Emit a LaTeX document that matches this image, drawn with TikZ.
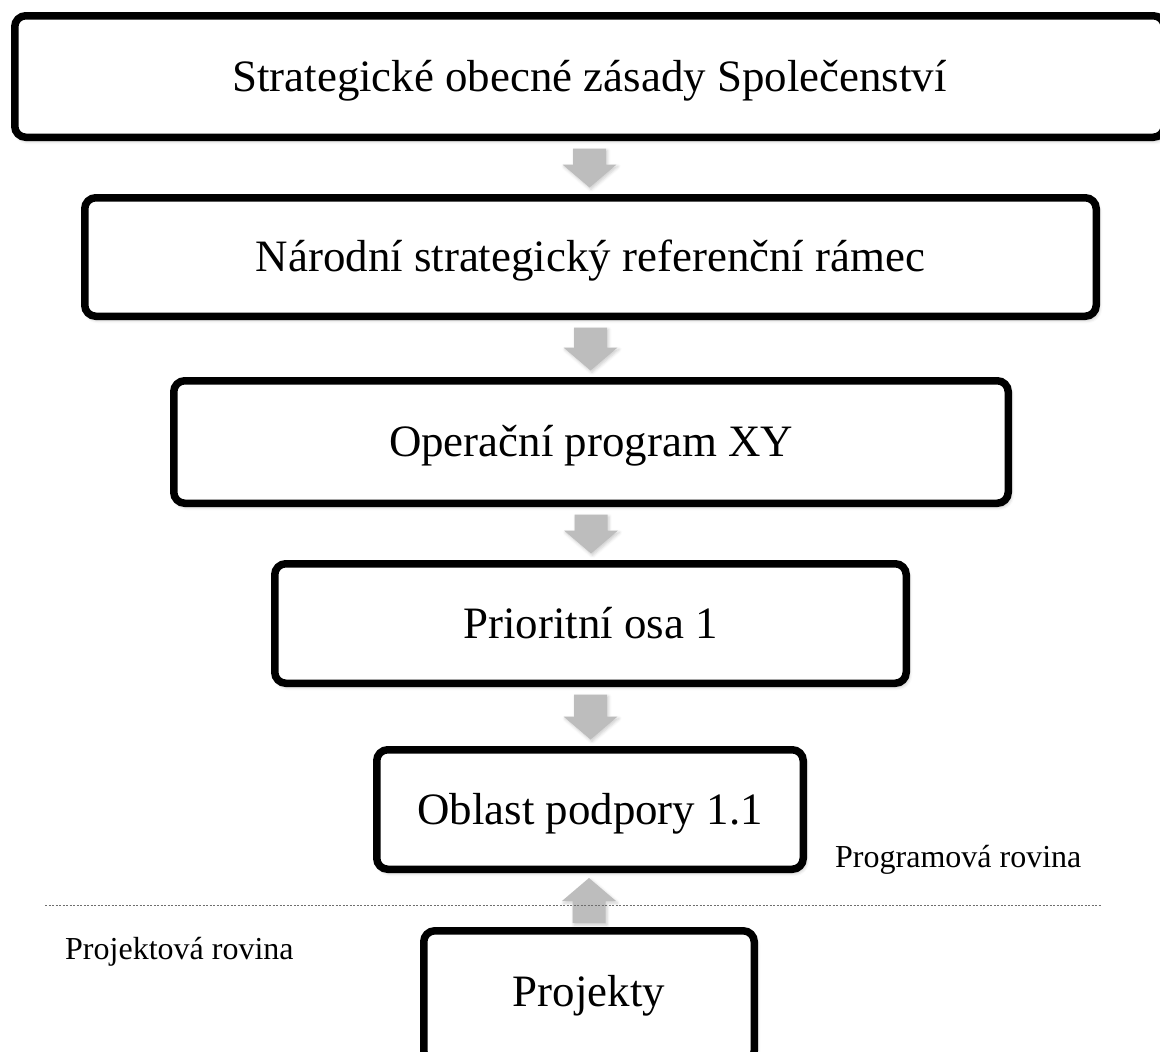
\documentclass[tikz,border=0pt]{standalone}
\usepackage{fontspec}
\setmainfont{Liberation Serif}
\usetikzlibrary{calc,shadows.blur}

\definecolor{arrowgrey}{RGB}{189,189,189}
\definecolor{dividergrey}{RGB}{110,110,110}

\tikzset{
  level/.style={draw=black, line width=7.5pt, rounded corners=11pt, fill=white,
    inner sep=0pt, text height=29.7pt, text depth=0pt,
    font=\fontsize{44.9}{50}\selectfont,
    blur shadow={shadow xshift=2pt, shadow yshift=-3pt, shadow blur radius=4pt, shadow opacity=35}},
  flowfill/.style={fill=arrowgrey,
    blur shadow={shadow xshift=1.5pt, shadow yshift=-2pt, shadow blur radius=3pt, shadow opacity=20}},
  plane/.style={font=\fontsize{32}{36}\selectfont, anchor=base west, inner sep=0pt},
  divider/.style={draw=dividergrey, line width=1pt, dash pattern=on 2pt off 1.5pt}
}

% block arrow running vertically from point #1 to the tip at point #2
\newcommand\levelarrow[2]{%
  \fill[flowfill] let \p1=(#1), \p2=(#2),
    \n2={\y2+ifthenelse(\y2>\y1,-23,23)} in
    (\x1-16.5pt,\y1) -- (\x1+16.5pt,\y1) -- (\x1+16.5pt,{\n2*1pt})
    -- (\x1+27pt,{\n2*1pt}) -- (\x1,\y2) -- (\x1-27pt,{\n2*1pt})
    -- (\x1-16.5pt,{\n2*1pt}) -- cycle;}

\begin{document}
\begin{tikzpicture}[x=1pt,y=-1pt]
  \useasboundingbox (0,0) rectangle (1160,1052);

  % hierarchy of levels
  \node[level, minimum width=1149.5pt, minimum height=121.5pt] (b1) at (589.5,76.5)
    {Strategické obecné zásady Společenství};
  \node[level, minimum width=1011.5pt, minimum height=118.5pt] (b2) at (590.5,257)
    {Národní strategický referenční rámec};
  \node[level, minimum width=834.5pt, minimum height=122.5pt] (b3) at (591,442)
    {Operační program XY};
  \node[level, minimum width=631.5pt, minimum height=119.5pt] (b4) at (590.5,623.5)
    {Prioritní osa 1};
  \node[level, minimum width=426.5pt, minimum height=119.5pt] (b5) at (590,809.5)
    {Oblast podpory 1.1};
  \node[level, minimum width=330.5pt, minimum height=131pt, text depth=9.7pt] (b6) at (589,996.3)
    {Projekty};

  % arrows between levels
  \levelarrow{$(b1.south)+(0,7.5)$}{$(b2.north)-(0,6.5)$}
  \levelarrow{$(b2.south)+(0,7.5)$}{$(b3.north)-(0,6.5)$}
  \levelarrow{$(b3.south)+(0,7.5)$}{$(b4.north)-(0,6.5)$}
  \levelarrow{$(b4.south)+(0,7.5)$}{$(b5.north)-(0,6.5)$}
  \levelarrow{$(b6.north)-(0,4)$}{$(b5.south)+(0,5)$}

  % boundary between programme and project level
  \coordinate (dl) at (45,905);
  \coordinate (dr) at (1102,905);
  \draw[divider] (dl) -- (dr);

  \node[plane] (prog) at (835,867) {Programová rovina};
  \node[plane] (proj) at (65,959) {Projektová rovina};
\end{tikzpicture}
\end{document}
